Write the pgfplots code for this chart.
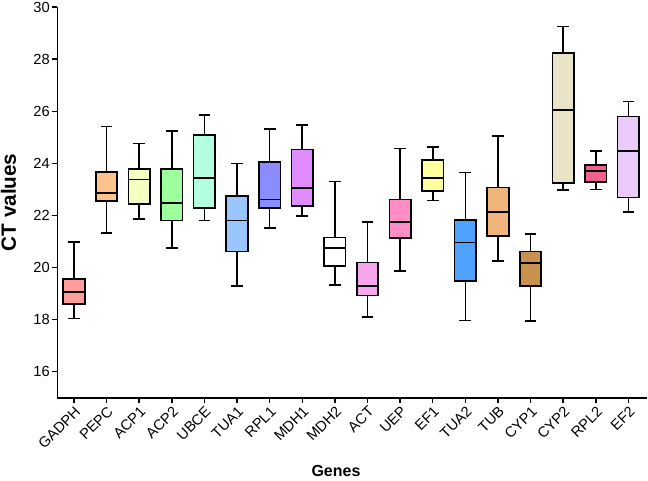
\documentclass[border=0pt]{standalone}
\usepackage{fontspec}
\setmainfont{Liberation Sans}
\usepackage{pgfplots}
\pgfplotsset{compat=1.18}
\definecolor{cGADPH}{HTML}{FF9C9C}
\definecolor{cPEPC}{HTML}{FFC28C}
\definecolor{cACP1}{HTML}{F6FFC2}
\definecolor{cACP2}{HTML}{9CFF9C}
\definecolor{cUBCE}{HTML}{B2FFE2}
\definecolor{cTUA1}{HTML}{99C6FF}
\definecolor{cRPL1}{HTML}{8A8CFF}
\definecolor{cMDH1}{HTML}{E08CFF}
\definecolor{cMDH2}{HTML}{FFFFFF}
\definecolor{cACT}{HTML}{F5A6EC}
\definecolor{cUEP}{HTML}{FF8EC6}
\definecolor{cEF1}{HTML}{FFFF9E}
\definecolor{cTUA2}{HTML}{4FA2FF}
\definecolor{cTUB}{HTML}{F0B57A}
\definecolor{cCYP1}{HTML}{C9914E}
\definecolor{cCYP2}{HTML}{E9E3C8}
\definecolor{cRPL2}{HTML}{F2608E}
\definecolor{cEF2}{HTML}{EACAF8}
% #1 position, #2 lower whisker, #3 lower quartile, #4 median, #5 upper quartile, #6 upper whisker, #7 colour
\newcommand{\gbox}[7]{%
\addplot[black, line width=1.25pt, x filter/.expression={x+#1}] coordinates {(0,#5) (0,#6)};
\addplot[black, line width=1.25pt, x filter/.expression={x+#1}] coordinates {(-0.18,#6) (0.18,#6)};
\addplot[black, line width=1.25pt, x filter/.expression={x+#1}] coordinates {(0,#3) (0,#2)};
\addplot[black, line width=1.25pt, x filter/.expression={x+#1}] coordinates {(-0.18,#2) (0.18,#2)};
\addplot[draw=black, fill=#7, line width=1.25pt, x filter/.expression={x+#1}] coordinates {(-0.33,#3) (0.33,#3) (0.33,#5) (-0.33,#5)} -- cycle;
\addplot[black, line width=1.25pt, x filter/.expression={x+#1}] coordinates {(-0.33,#4) (0.33,#4)};
}
\begin{document}
\begin{tikzpicture}
\begin{axis}[
  name=ax,
  scale only axis, width=442pt, height=293pt,
  xmin=-0.51, xmax=17.56, ymin=15, ymax=30,
  axis lines=left, axis line style={-, line width=1.2pt},
  tick align=outside, major tick length=4pt,
  tick style={black, line width=1.1pt},
  xtick={0,...,17},
  xticklabels={GADPH,PEPC,ACP1,ACP2,UBCE,TUA1,RPL1,MDH1,MDH2,ACT,UEP,EF1,TUA2,TUB,CYP1,CYP2,RPL2,EF2},
  ytick={16,18,...,30},
  ticklabel style={font=\fontsize{11}{13}\selectfont},
  /pgf/number format/assume math mode=true,
  xticklabel style={rotate=45, anchor=north east, inner sep=1pt},
  yticklabel style={inner sep=1.5pt},
  xlabel={\textbf{Genes}}, ylabel={\textbf{CT values}},
  xlabel style={font=\fontsize{12}{14}\selectfont, xshift=-12pt, yshift=-7pt},
  ylabel style={font=\fontsize{15.5}{17}\selectfont, yshift=8pt},
  clip=false,
]
\gbox{0}{18.04}{18.61}{19.05}{19.55}{20.99}{cGADPH}
\gbox{1}{21.32}{22.56}{22.87}{23.66}{25.41}{cPEPC}
\gbox{2}{21.87}{22.44}{23.38}{23.78}{24.76}{cACP1}
\gbox{3}{20.75}{21.80}{22.47}{23.78}{25.24}{cACP2}
\gbox{4}{21.80}{22.28}{23.45}{25.09}{25.86}{cUBCE}
\gbox{5}{19.30}{20.61}{21.80}{22.74}{23.99}{cTUA1}
\gbox{6}{21.53}{22.28}{22.61}{24.04}{25.32}{cRPL1}
\gbox{7}{21.99}{22.37}{23.06}{24.53}{25.48}{cMDH1}
\gbox{8}{19.34}{20.06}{20.74}{21.15}{23.30}{cMDH2}
\gbox{9}{18.10}{18.92}{19.29}{20.19}{21.74}{cACT}
\gbox{10}{19.87}{21.13}{21.74}{22.61}{24.57}{cUEP}
\gbox{11}{22.57}{22.94}{23.44}{24.13}{24.64}{cEF1}
\gbox{12}{17.96}{19.49}{20.96}{21.83}{23.65}{cTUA2}
\gbox{13}{20.25}{21.20}{22.12}{23.07}{25.06}{cTUB}
\gbox{14}{17.95}{19.29}{20.17}{20.61}{21.29}{cCYP1}
\gbox{15}{22.98}{23.24}{26.04}{28.24}{29.26}{cCYP2}
\gbox{16}{22.99}{23.29}{23.71}{23.93}{24.48}{cRPL2}
\gbox{17}{22.14}{22.69}{24.48}{25.80}{26.37}{cEF2}
\end{axis}
\pgfresetboundingbox
\path[use as bounding box] ([xshift=-42.98pt, yshift=-61.7pt]ax.south west) rectangle ([xshift=443.0pt, yshift=298.3pt]ax.south west);
\end{tikzpicture}
\end{document}
